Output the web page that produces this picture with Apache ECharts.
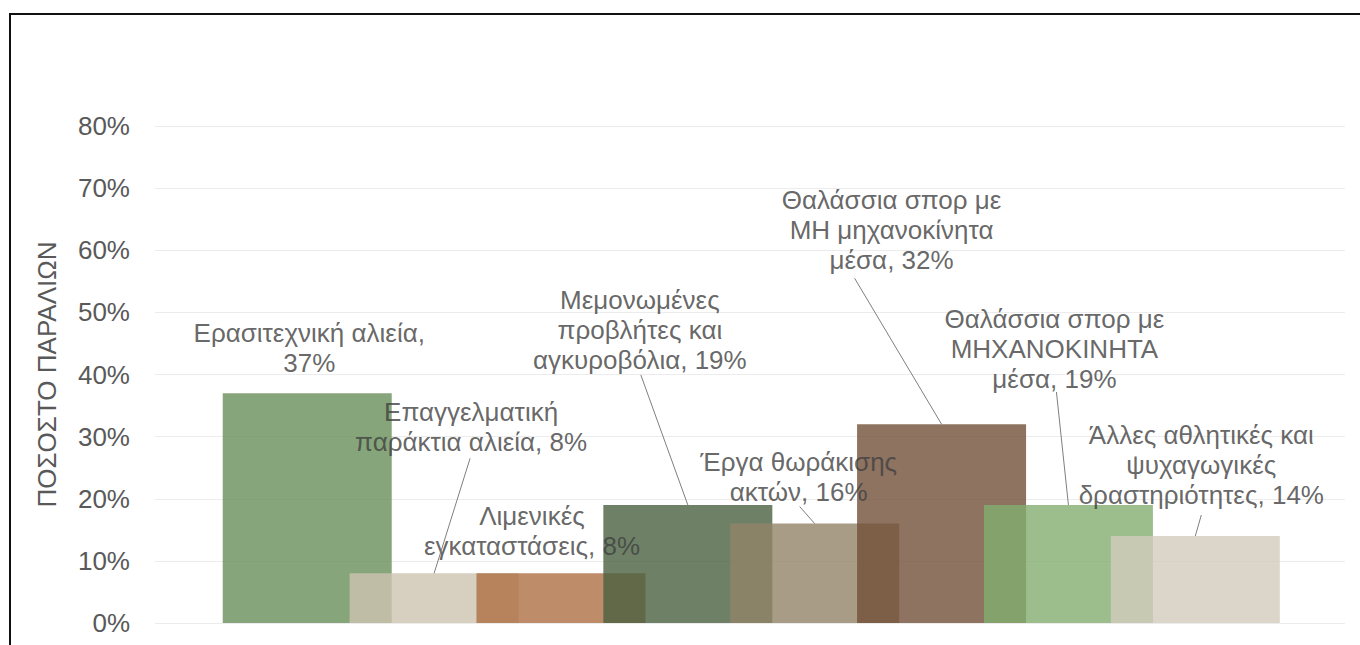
<!DOCTYPE html>
<html>
<head>
<meta charset="utf-8">
<script src="https://cdn.jsdelivr.net/npm/echarts@6/dist/echarts.min.js"></script>
<style>
html,body{margin:0;padding:0;background:#fff;}
#c{width:1360px;height:645px;}
#frame{position:absolute;left:9px;top:13px;width:1400px;height:700px;border:2px solid #111;box-sizing:border-box;pointer-events:none;}
</style>
</head>
<body>
<div id="c"></div>
<div id="frame"></div>
<script>
// ---- data ----
const categories = [
  'Ερασιτεχνική αλιεία',
  'Επαγγελματική\nπαράκτια αλιεία',
  'Λιμενικές\nεγκαταστάσεις',
  'Μεμονωμένες\nπροβλήτες και\nαγκυροβόλια',
  'Έργα θωράκισης\nακτών',
  'Θαλάσσια σπορ με\nΜΗ μηχανοκίνητα\nμέσα',
  'Θαλάσσια σπορ με\nΜΗΧΑΝΟΚΙΝΗΤΑ\nμέσα',
  'Άλλες αθλητικές και\nψυχαγωγικές\nδραστηριότητες'
];
const values = [37, 8, 8, 19, 16, 32, 19, 14];
const valueOnNewLine = [true, false, false, false, false, false, false, false];
const yTicks = [0, 10, 20, 30, 40, 50, 60, 70, 80];
const barColors = ['#698f5a', '#cdc3b0', '#ae6f43', '#4a6040', '#928369', '#725038', '#82ae6f', '#d3ccbd'];
// label offsets from default 'top' position (presentation only)
const labelShift = [[2, -10], [37, -111], [-29, -7], [-48, -125], [-16, -12], [-50, -144], [-14, -106], [6, -21]];
// leader line start, as pixel offset from the bar's top centre (null = no leader)
const leaderFrom = [null, [36, -115], null, [-47, -130], [-15, -17], [-87, -146], [-12, -113], [6, -21]];

const chart = echarts.init(document.getElementById('c'), null, {renderer: 'svg'});
const font = '"Liberation Sans", Arial, sans-serif';

const leaderData = [];
values.forEach((v, i) => { if (leaderFrom[i]) leaderData.push({value: [i, v], idx: i}); });

const option = {
  animation: false,
  backgroundColor: '#fff',
  grid: {left: 155, right: 15, top: 126, bottom: 22, containLabel: false},
  xAxis: {
    type: 'value', min: -1.2, max: 8.18,
    show: false, splitLine: {show: false}
  },
  yAxis: {
    type: 'value', min: yTicks[0], max: yTicks[yTicks.length - 1], interval: 10,
    name: 'ΠΟΣΟΣΤΟ ΠΑΡΑΛΙΩΝ',
    nameLocation: 'middle', nameGap: 95, nameRotate: 90,
    nameTextStyle: {color: '#595959', fontSize: 26, fontFamily: font},
    axisLine: {show: false}, axisTick: {show: false},
    axisLabel: {formatter: '{value}%', color: '#595959', fontSize: 26, fontFamily: font, margin: 25},
    splitLine: {lineStyle: {color: '#ececec', width: 1}}
  },
  series: [{
    type: 'bar',
    barWidth: 169,
    z: 2,
    data: values.map((v, i) => ({
      value: [i, v],
      itemStyle: {color: barColors[i], opacity: 0.8}
    })),
    label: {
      show: true, position: 'top', distance: 5,
      color: '#404040', fontSize: 26, lineHeight: 30, fontFamily: font, align: 'center',
      formatter: p => categories[p.dataIndex] + (valueOnNewLine[p.dataIndex] ? ',\n' : ', ') + values[p.dataIndex] + '%'
    },
    labelLayout: p => ({dx: labelShift[p.dataIndex][0], dy: labelShift[p.dataIndex][1], hideOverlap: false})
  }, {
    type: 'custom',
    z: 3,
    silent: true,
    data: leaderData,
    renderItem: (params, api) => {
      const i = leaderData[params.dataIndex].idx;
      const p = api.coord([api.value(0), api.value(1)]);
      const off = leaderFrom[i];
      return {
        type: 'line',
        shape: {x1: p[0] + off[0], y1: p[1] + off[1], x2: p[0], y2: p[1]},
        style: {stroke: '#7f7f7f', lineWidth: 1}
      };
    }
  }]
};
chart.setOption(option);
</script>
</body>
</html>
